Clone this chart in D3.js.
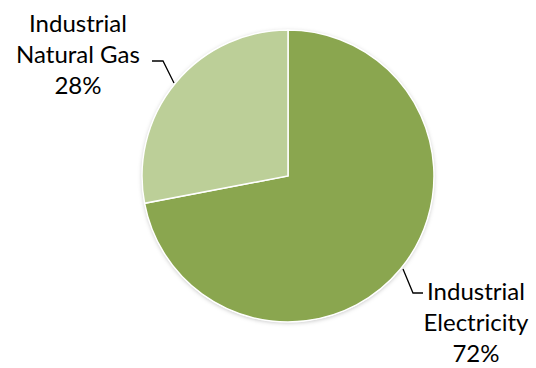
<!DOCTYPE html>
<html><head><meta charset="utf-8">
<script src="https://cdn.jsdelivr.net/npm/d3@7"></script>
<style>html,body{margin:0;padding:0;background:#fff;}</style>
</head><body>
<svg id="chart" width="536" height="368"></svg>
<script>
const categories = ["Industrial Electricity", "Industrial Natural Gas"];
const values = [72, 28];
const labelLines = [["Industrial", "Electricity", "72%"], ["Industrial", "Natural Gas", "28%"]];
const colors = ["#8aa64f", "#bccf98"];

const svg = d3.select("#chart");
const cx = 288, cy = 176, r = 146;
const defs = svg.append("defs");
const f = defs.append("filter").attr("id", "sh").attr("x", "-10%").attr("y", "-10%").attr("width", "120%").attr("height", "120%");
f.append("feDropShadow").attr("dx", 0).attr("dy", 1).attr("stdDeviation", 2).attr("flood-color", "#000").attr("flood-opacity", 0.25);

const pie = d3.pie().sort(null).value(d => d)(values);
const arc = d3.arc().innerRadius(0).outerRadius(r);
const g = svg.append("g").attr("transform", `translate(${cx},${cy})`);
g.append("circle").attr("r", r).attr("fill", "#fff").attr("filter", "url(#sh)");
g.selectAll("path").data(pie).join("path")
  .attr("d", arc).attr("fill", (d, i) => colors[i])
  .attr("stroke", "#fff").attr("stroke-width", 1.5);

const font = "Lato, 'Open Sans', sans-serif";
const lbl = [
  {x: 476, y: 300, leader: [[403, 269], [413, 293], [423, 293]]},
  {x: 78, y: 32, leader: [[152, 61], [163, 61], [174, 83]]}
];
lbl.forEach((L, i) => {
  const t = svg.append("text").attr("text-anchor", "middle")
    .attr("font-family", font).attr("font-size", 24).attr("fill", "#000");
  labelLines[i].forEach((s, k) => t.append("tspan").attr("x", L.x).attr("y", L.y + k * 31).text(s));
  svg.append("path").attr("d", d3.line()(L.leader)).attr("fill", "none").attr("stroke", "#000").attr("stroke-width", 1.3);
});
</script>
</body></html>
